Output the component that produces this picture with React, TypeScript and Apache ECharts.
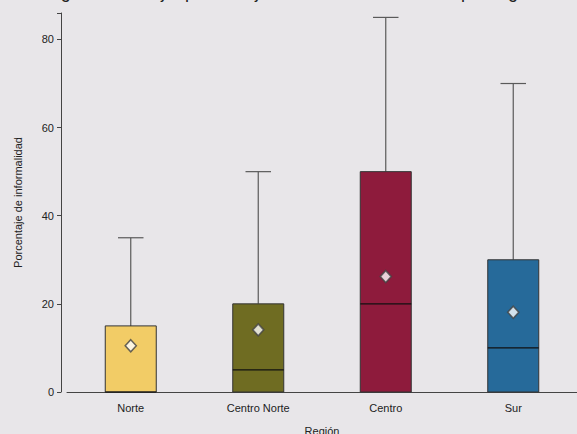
import React, { useEffect, useRef } from "react";
import * as echarts from "echarts";

const titleText = "Diagrama de caja: porcentaje de informalidad laboral por región";
const categories = ["Norte", "Centro Norte", "Centro", "Sur"];
const minimums = [0, 0, 0, 0];
const q1s = [0, 0, 0, 0];
const medians = [0, 5, 20, 10];
const q3s = [15, 20, 50, 30];
const maximums = [35, 50, 85, 70];
const means = [10.5, 14.1, 26.2, 18.1];
const boxColors = ["#F2CC66", "#6F6C22", "#8E1B3C", "#266A9A"];
const yTicks = { min: 0, max: 86, interval: 20 };

export default function App() {
  const ref = useRef<HTMLDivElement>(null);
  useEffect(() => {
    document.body.style.margin = "0";
    const chart = echarts.init(ref.current!, null, { renderer: "svg" });
    const boxData = categories.map((_, i) => [i, minimums[i], q1s[i], medians[i], q3s[i], maximums[i]]);
    const font = "Liberation Sans";
    chart.setOption({
      animation: false,
      backgroundColor: "#E8E6E9",
      textStyle: { fontFamily: font },
      graphic: [
        {
          type: "text",
          x: 288,
          y: 1,
          silent: true,
          style: {
            text: titleText,
            align: "center",
            verticalAlign: "bottom",
            fontFamily: font,
            fontSize: 18,
            fill: "#222",
          },
        },
      ],
      grid: { left: 67, right: 0, top: 13, bottom: 42, outerBoundsMode: "none", containLabel: false },
      xAxis: {
        type: "category",
        data: categories,
        name: "Región",
        nameLocation: "middle",
        nameGap: 33,
        nameTextStyle: { fontFamily: font, fontSize: 11, color: "#222" },
        axisLine: { lineStyle: { color: "#444", width: 1 } },
        axisTick: { alignWithLabel: true, length: 4, lineStyle: { color: "#444" } },
        axisLabel: { fontFamily: font, fontSize: 11, color: "#222", margin: 10 },
      },
      yAxis: {
        type: "value",
        min: yTicks.min,
        max: yTicks.max,
        interval: yTicks.interval,
        offset: 6,
        name: "Porcentaje de informalidad",
        nameLocation: "middle",
        nameGap: 38,
        nameTextStyle: { fontFamily: font, fontSize: 11, color: "#222" },
        axisLine: { show: true, lineStyle: { color: "#444", width: 1 } },
        axisTick: { show: true, length: 4, lineStyle: { color: "#444" } },
        axisLabel: {
          fontFamily: font,
          fontSize: 11,
          color: "#222",
          margin: 7,
          formatter: (v: number) => (v % 20 === 0 ? String(v) : ""),
        },
        splitLine: { show: false },
      },
      series: [
        {
          type: "custom",
          data: boxData,
          encode: { x: 0, y: [1, 2, 3, 4, 5] },
          renderItem: (params: any, api: any) => {
            const idx = api.value(0);
            const q1 = api.value(2);
            const med = api.value(3);
            const q3 = api.value(4);
            const mx = api.value(5);
            const bandW = api.size([1, 0])[0];
            const bw = bandW * 0.4;
            const cw = bandW * 0.2;
            const pQ1 = api.coord([idx, q1]);
            const pMed = api.coord([idx, med]);
            const pQ3 = api.coord([idx, q3]);
            const pMax = api.coord([idx, mx]);
            const cx = pQ1[0];
            return {
              type: "group",
              children: [
                {
                  type: "line",
                  shape: { x1: cx, y1: pQ3[1], x2: cx, y2: pMax[1] },
                  style: { stroke: "#5a5a5a", lineWidth: 1.2 },
                },
                {
                  type: "line",
                  shape: { x1: cx - cw / 2, y1: pMax[1], x2: cx + cw / 2, y2: pMax[1] },
                  style: { stroke: "#5a5a5a", lineWidth: 1.2 },
                },
                {
                  type: "rect",
                  shape: { x: cx - bw / 2, y: pQ3[1], width: bw, height: pQ1[1] - pQ3[1] },
                  style: { fill: boxColors[idx], stroke: "#333", lineWidth: 1 },
                },
                {
                  type: "line",
                  shape: { x1: cx - bw / 2, y1: pMed[1], x2: cx + bw / 2, y2: pMed[1] },
                  style: { stroke: "#111", lineWidth: 1.2 },
                },
              ],
            };
          },
          z: 2,
        },
        {
          type: "scatter",
          data: means.map((m, i) => [i, m]),
          symbol: "diamond",
          symbolSize: [11, 12],
          itemStyle: { color: "#ffffff", borderColor: "#444", borderWidth: 1.6 },
          z: 5,
        },
      ],
    });
    return () => chart.dispose();
  }, []);
  return <div ref={ref} style={{ width: 577, height: 434 }} />;
}
